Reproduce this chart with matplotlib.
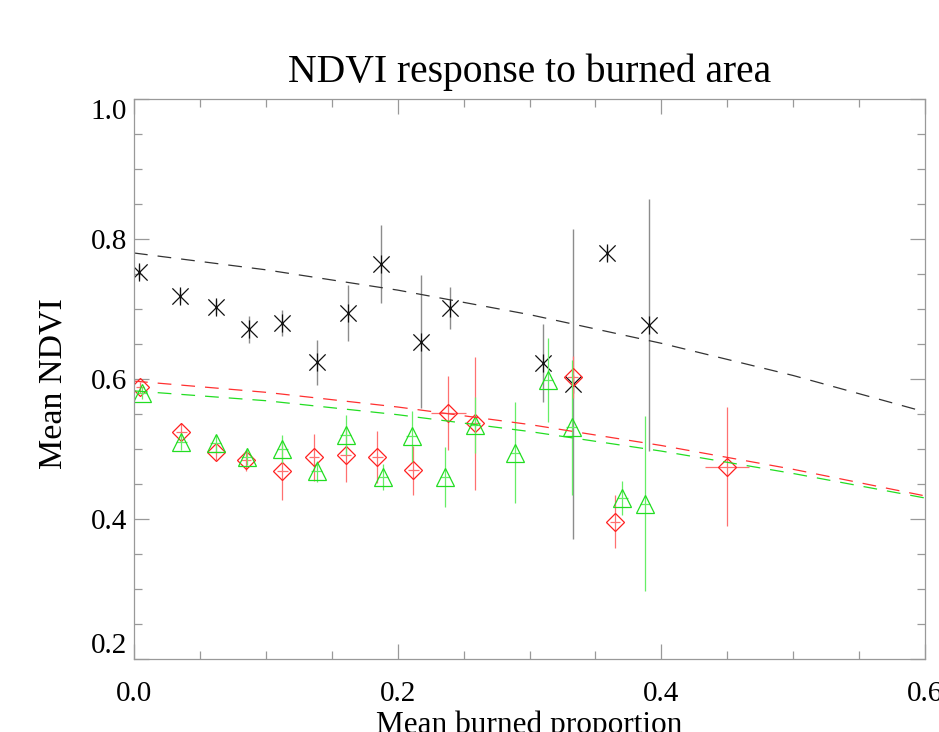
import matplotlib
matplotlib.use('Agg')
import matplotlib.pyplot as plt
from matplotlib.path import Path

plt.rcParams['font.family'] = ['Liberation Serif', 'DejaVu Serif']

# black series (asterisks)
black_x = [0.004, 0.035, 0.062, 0.087, 0.1125, 0.1386, 0.1626, 0.187, 0.2175, 0.240, 0.310, 0.3328, 0.3587, 0.3907]
black_y = [0.753, 0.718, 0.703, 0.671, 0.680, 0.624, 0.695, 0.764, 0.653, 0.701, 0.623, 0.593, 0.780, 0.677]
black_err = [0.01, 0.01, 0.01, 0.019, 0.019, 0.032, 0.04, 0.056, 0.095, 0.03, 0.056, 0.222, 0.01, 0.18]

# red series (diamonds)
red_x = [0.0046, 0.036, 0.062, 0.085, 0.1125, 0.1366, 0.1606, 0.1846, 0.212, 0.2385, 0.2587, 0.3328, 0.365, 0.4497]
red_y = [0.588, 0.525, 0.496, 0.484, 0.469, 0.488, 0.491, 0.489, 0.470, 0.552, 0.537, 0.603, 0.396, 0.475]
red_err = [0.008, 0.012, 0.012, 0.015, 0.042, 0.033, 0.038, 0.037, 0.035, 0.053, 0.095, 0.03, 0.038, 0.085]
red_xerr = [0.003, 0.004, 0.004, 0.004, 0.004, 0.004, 0.004, 0.004, 0.004, 0.013, 0.004, 0.004, 0.004, 0.0165]

# green series (triangles)
green_x = [0.0058, 0.036, 0.062, 0.0855, 0.1125, 0.1386, 0.1606, 0.189, 0.2107, 0.236, 0.2587, 0.289, 0.3139, 0.332, 0.3705, 0.3877]
green_y = [0.580, 0.510, 0.508, 0.489, 0.500, 0.468, 0.520, 0.460, 0.518, 0.460, 0.534, 0.495, 0.599, 0.531, 0.430, 0.422]
green_err = [0.008, 0.012, 0.012, 0.012, 0.02, 0.015, 0.028, 0.018, 0.036, 0.043, 0.04, 0.072, 0.06, 0.096, 0.024, 0.125]
green_xerr = [0.004] * 16

# fitted curves
fit_x = [0.0, 0.1, 0.2, 0.3, 0.4, 0.5, 0.6]
black_fit = [0.780, 0.756, 0.727, 0.692, 0.651, 0.605, 0.553]
red_fit = [0.597, 0.581, 0.560, 0.535, 0.505, 0.471, 0.433]
green_fit = [0.583, 0.569, 0.549, 0.525, 0.497, 0.465, 0.430]

# IDL-like asterisk: vertical bar plus an X
star = Path([(0, -1), (0, 1), (-0.9, -0.9), (0.9, 0.9), (-0.9, 0.9), (0.9, -0.9)],
            [Path.MOVETO, Path.LINETO] * 3)

fig = plt.figure(figsize=(9.39, 7.32), dpi=100)
ax = fig.add_axes([134 / 939, 73 / 732, 791 / 939, 560 / 732])

ax.errorbar(black_x, black_y, yerr=black_err, fmt='none', ecolor='#8c8c8c', elinewidth=1.0, capsize=0)
ax.plot(black_x, black_y, ls='none', marker=star, ms=13, mec='#111111', mew=0.9)

ax.errorbar(red_x, red_y, yerr=red_err, xerr=red_xerr, fmt='none', ecolor='#ff7070', elinewidth=0.9, capsize=0)
ax.plot(red_x, red_y, ls='none', marker='D', ms=9.5, mfc='none', mec='#ff2020', mew=0.9)

ax.errorbar(green_x, green_y, yerr=green_err, xerr=green_xerr, fmt='none', ecolor='#66ee66', elinewidth=0.9, capsize=0)
ax.plot(green_x, green_y, ls='none', marker='^', ms=12.5, mfc='none', mec='#22dd22', mew=0.9)

ax.plot(fit_x, black_fit, color='#333333', lw=0.9, dashes=(11, 8))
ax.plot(fit_x, red_fit, color='#ff3030', lw=0.9, dashes=(11, 8))
ax.plot(fit_x, green_fit, color='#22dd22', lw=0.9, dashes=(11, 8))

ax.set_xlim(0, 0.6)
ax.set_ylim(0.2, 1.0)
ax.set_xticks([0.0, 0.2, 0.4, 0.6])
ax.set_xticklabels(['0.0', '0.2', '0.4', '0.6'])
ax.set_xticks([0.05, 0.1, 0.15, 0.25, 0.3, 0.35, 0.45, 0.5, 0.55], minor=True)
ax.set_yticks([0.2, 0.4, 0.6, 0.8, 1.0])
ax.set_yticklabels(['0.2', '0.4', '0.6', '0.8', '1.0'])
ax.set_yticks([0.25, 0.3, 0.35, 0.45, 0.5, 0.55, 0.65, 0.7, 0.75, 0.85, 0.9, 0.95], minor=True)

for s in ax.spines.values():
    s.set_color('#999999')
    s.set_linewidth(0.9)
ax.tick_params(which='both', direction='in', top=True, right=True, color='#999999', width=0.9, labelsize=21)
ax.tick_params(which='major', length=11)
ax.tick_params(which='minor', length=6)
ax.tick_params(axis='x', pad=16)
ax.tick_params(axis='y', pad=5)

# IDL keeps the end labels inside the axis range
ylabels = ax.get_yticklabels()
ylabels[0].set_va('bottom')
ylabels[-1].set_va('top')

fig.text(529.5 / 939, 1 - 82 / 732, 'NDVI response to burned area', ha='center', va='baseline', size=28.5)
fig.text(53 / 939, 1 - 384 / 732, 'Mean NDVI', ha='center', va='center', rotation=90, size=24.5)
fig.text(529.5 / 939, 1 - 711 / 732, 'Mean burned proportion', ha='center', va='top', size=22.5)

plt.savefig('out.png', dpi=100)
plt.close()
